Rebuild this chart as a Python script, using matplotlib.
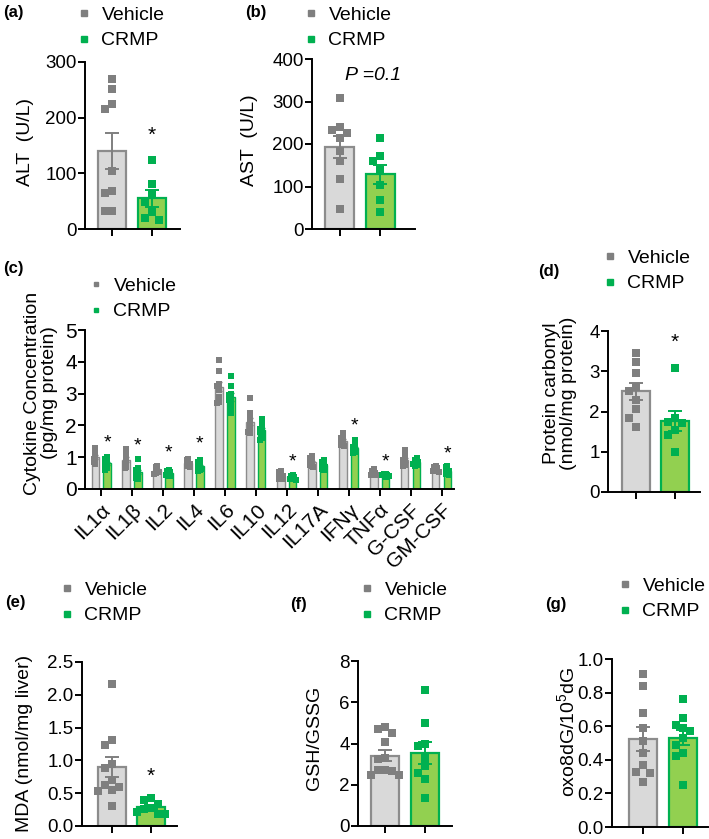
import matplotlib
matplotlib.use("Agg")
import matplotlib.pyplot as plt
from matplotlib.lines import Line2D
import numpy as np

plt.rcParams['font.family'] = ['Liberation Sans', 'DejaVu Sans']
plt.rcParams['mathtext.fontset'] = 'custom'
plt.rcParams['mathtext.rm'] = 'Liberation Sans'

GREY_PT = '#7f7f7f'
GREEN_PT = '#00b050'
GREY_BAR = '#d9d9d9'
GREY_EDGE = '#8c8c8c'
GREEN_BAR = '#92d050'
GREEN_EDGE = '#00b050'

# ---- data ----
alt_veh = [270, 252, 225, 215, 104, 69, 64, 33, 33]
alt_crmp = [124, 81, 64, 49, 30, 20, 16]

ast_veh = [308, 241, 234, 227, 214, 183, 161, 118, 47]
ast_crmp = [215, 171, 160, 140, 103, 69, 40]

carb_veh = [3.45, 3.22, 2.95, 2.6, 2.52, 2.28, 2.05, 1.85, 1.62]
carb_crmp = [3.08, 1.85, 1.75, 1.72, 1.55, 1.42, 1.0]

mda_veh = [2.17, 1.31, 1.23, 0.95, 0.89, 0.70, 0.62, 0.60, 0.55, 0.53, 0.31]
mda_crmp = [0.42, 0.40, 0.33, 0.28, 0.26, 0.22, 0.19, 0.18]

gsh_veh = [4.8, 4.7, 4.5, 4.06, 3.3, 3.25, 2.7, 2.7, 2.65, 2.45, 2.45]
gsh_crmp = [6.6, 4.98, 3.98, 3.9, 3.31, 2.89, 2.58, 2.27, 1.37]

oxo_veh = [0.91, 0.84, 0.68, 0.59, 0.51, 0.44, 0.37, 0.33, 0.32, 0.27]
oxo_crmp = [0.76, 0.65, 0.61, 0.59, 0.57, 0.53, 0.49, 0.44, 0.42, 0.25]

cyto_names = ['IL1α', 'IL1β', 'IL2', 'IL4', 'IL6', 'IL10', 'IL12', 'IL17A',
              'IFNγ', 'TNFα', 'G-CSF', 'GM-CSF']
cyto_veh = [
    [1.28, 1.2, 1.1, 1.0, 0.95, 0.9, 0.85, 0.8],
    [1.25, 1.15, 1.05, 0.95, 0.85, 0.8, 0.7, 0.65],
    [0.72, 0.68, 0.62, 0.6, 0.55, 0.52, 0.5, 0.48],
    [0.95, 0.9, 0.85, 0.82, 0.8, 0.75, 0.72, 0.7],
    [4.05, 3.7, 3.3, 3.25, 3.2, 3.1, 2.9, 2.75, 2.7],
    [2.85, 2.4, 2.3, 2.15, 2.05, 1.95, 1.85, 1.8, 1.75],
    [0.58, 0.52, 0.48, 0.42, 0.4, 0.36, 0.32, 0.3],
    [1.05, 0.98, 0.9, 0.85, 0.8, 0.75, 0.72, 0.7],
    [1.76, 1.68, 1.6, 1.52, 1.48, 1.42, 1.38, 1.34],
    [0.63, 0.58, 0.54, 0.5, 0.48, 0.46, 0.45, 0.44],
    [1.22, 1.05, 0.95, 0.9, 0.85, 0.8, 0.75, 0.72],
    [0.71, 0.68, 0.65, 0.62, 0.6, 0.58, 0.56, 0.55],
]
cyto_crmp = [
    [1.02, 0.95, 0.88, 0.82, 0.78, 0.72, 0.65, 0.6],
    [0.95, 0.65, 0.6, 0.55, 0.5, 0.42, 0.35, 0.3],
    [0.6, 0.56, 0.52, 0.5, 0.48, 0.45, 0.42, 0.4],
    [0.9, 0.85, 0.78, 0.72, 0.68, 0.64, 0.6, 0.58],
    [3.55, 3.25, 3.0, 2.95, 2.85, 2.8, 2.7, 2.55, 2.4],
    [2.2, 2.05, 1.95, 1.9, 1.85, 1.8, 1.7, 1.6, 1.55],
    [0.45, 0.42, 0.38, 0.36, 0.33, 0.31, 0.3, 0.28],
    [0.92, 0.85, 0.8, 0.75, 0.7, 0.68, 0.62, 0.6],
    [1.55, 1.4, 1.32, 1.28, 1.22, 1.18, 1.15, 1.12],
    [0.48, 0.46, 0.44, 0.43, 0.42, 0.41, 0.4, 0.39],
    [0.97, 0.92, 0.88, 0.85, 0.82, 0.8, 0.75, 0.72],
    [0.73, 0.68, 0.62, 0.6, 0.56, 0.52, 0.48, 0.45],
]
cyto_star = [1.46, 1.34, 1.13, 1.41, None, None, 0.84, None, 1.98, 0.84, None, 1.1]

W, H = 709, 839
fig = plt.figure(figsize=(W / 100, H / 100), dpi=100)


def px_axes(l, t, r, b):
    return fig.add_axes([l / W, 1 - b / H, (r - l) / W, (b - t) / H])


def spread(vals, w, gap):
    # simple beeswarm: put each point at the first free column
    placed, offs = [], []
    for v in vals:
        for o in (0, -w, w, -2 * w, 2 * w):
            if all(abs(v - pv) > gap or o != po for pv, po in placed):
                break
        placed.append((v, o))
        offs.append(o)
    return np.array(offs)


def style(ax, xlim, ymax, yticks):
    ax.set_xlim(*xlim)
    ax.set_ylim(0, ymax)
    ax.set_yticks(yticks)
    ax.spines[['top', 'right']].set_visible(False)
    for sp in ('left', 'bottom'):
        ax.spines[sp].set_linewidth(1.4)
    ax.tick_params(width=1.4, length=5, labelsize=13.5, pad=1)


def two_bar(box, veh, crmp, ymax, yticks, xlim, star=None):
    ax = px_axes(*box)
    groups = [(veh, GREY_BAR, GREY_EDGE, GREY_PT), (crmp, GREEN_BAR, GREEN_EDGE, GREEN_PT)]
    for i, (vals, fc, ec, pc) in enumerate(groups):
        vals = np.asarray(vals, float)
        m = vals.mean()
        s = vals.std(ddof=1) / np.sqrt(len(vals))
        ax.bar(i, m, width=0.7, color=fc, edgecolor=ec, lw=1.6, zorder=1)
        ax.scatter(i + spread(vals, 0.18, 0.05 * ymax), vals, marker='s', s=30,
                   color=pc, linewidths=0, zorder=2)
        ax.errorbar(i, m, yerr=s, color=pc, capsize=5, elinewidth=1.4,
                    capthick=1.4, zorder=3)
    style(ax, xlim, ymax, yticks)
    ax.set_xticks([0, 1])
    ax.set_xticklabels([])
    if star is not None:
        ax.text(1, star, '*', ha='center', va='center', fontsize=15)
    return ax


def legend(xm, y, ms=4.5):
    # xm: pixel x of the legend marker centre
    h = [Line2D([], [], ls='', marker='s', ms=ms, color=GREY_PT),
         Line2D([], [], ls='', marker='s', ms=ms, color=GREEN_PT)]
    fig.legend(h, ['Vehicle', 'CRMP'], loc='upper left',
               bbox_to_anchor=((xm - 4.9) / W, 1 - y / H), frameon=False, fontsize=14,
               handlelength=0.5, handletextpad=0.65, labelspacing=0.42,
               borderpad=0, borderaxespad=0)


def ylab(x, y, s, **kw):
    fig.text(x / W, 1 - y / H, s, rotation=90, ha='center', va='center',
             fontsize=14, **kw)


def plabel(x, y, s):
    fig.text(x / W, 1 - y / H, s, fontweight='bold', fontsize=12, va='center')


# (a) ALT
two_bar((85, 62, 180, 229), alt_veh, alt_crmp, 300, [0, 100, 200, 300],
        (-0.68, 1.7), star=169)
ylab(26, 142, 'ALT  (U/L)')
plabel(3, 13, '(a)')
legend(84, 6)

# (b) AST
ax_b = two_bar((312, 59, 415, 229), ast_veh, ast_crmp, 400, [0, 100, 200, 300, 400],
               (-0.68, 1.85))
ax_b.text(0.82, 360, 'P =0.1', style='italic', ha='center', va='center', fontsize=14)
ylab(250, 140, 'AST  (U/L)')
plabel(245, 13, '(b)')
legend(311, 6)

# (c) cytokines
ax_c = px_axes(85, 330, 454, 489)
xc = np.arange(len(cyto_names))
for k in range(len(cyto_names)):
    for vals, off, fc, ec, pc in [(cyto_veh[k], -0.19, GREY_BAR, GREY_EDGE, GREY_PT),
                                  (cyto_crmp[k], 0.19, GREEN_BAR, GREEN_EDGE, GREEN_PT)]:
        vals = np.asarray(vals, float)
        m = vals.mean()
        s = vals.std(ddof=1) / np.sqrt(len(vals))
        ax_c.bar(xc[k] + off, m, width=0.24, color=fc, edgecolor=ec, lw=1.0, zorder=1)
        ax_c.scatter(xc[k] + off + spread(vals, 0.05, 0.08), vals, marker='s', s=14,
                     color=pc, linewidths=0, zorder=2)
        ax_c.errorbar(xc[k] + off, m, yerr=s, color=pc, capsize=2.5, elinewidth=1.0,
                      capthick=1.0, zorder=3)
    if cyto_star[k] is not None:
        ax_c.text(xc[k] + 0.19, cyto_star[k], '*', ha='center', va='center', fontsize=14)
style(ax_c, (-0.52, 11.4), 5, [0, 1, 2, 3, 4, 5])
ax_c.tick_params(axis='y', labelsize=15)
ax_c.set_xticks(xc)
ax_c.set_xticklabels(cyto_names, rotation=45, ha='right', rotation_mode='anchor',
                     fontsize=15)
ax_c.tick_params(axis='x', pad=3)
fig.text(41 / W, 1 - 393 / H, 'Cytokine Concentration\n(pg/mg protein)', rotation=90,
         ha='center', va='center', fontsize=14, linespacing=1.0, multialignment='center')
plabel(3, 268, '(c)')
legend(96, 277, ms=3.5)

# (d) protein carbonyl
two_bar((608, 331, 700, 492), carb_veh, carb_crmp, 4, [0, 1, 2, 3, 4],
        (-0.72, 1.64), star=3.73)
fig.text(560 / W, 1 - 393 / H, 'Protein carbonyl\n(nmol/mg protein)', rotation=90,
         ha='center', va='center', fontsize=14, linespacing=1.0, multialignment='center')
plabel(538, 271, '(d)')
legend(610, 249)

# (e) MDA
two_bar((82, 662, 177, 826), mda_veh, mda_crmp, 2.5, [0, 0.5, 1.0, 1.5, 2.0, 2.5],
        (-0.77, 1.67), star=0.76)
ylab(25, 743, 'MDA (nmol/mg liver)')
plabel(5, 603, '(e)')
legend(67, 581)

# (f) GSH/GSSG
two_bar((358, 661, 452, 826), gsh_veh, gsh_crmp, 8, [0, 2, 4, 6, 8], (-0.675, 1.675))
ylab(314, 738, 'GSH/GSSG')
plabel(290, 605, '(f)')
legend(367, 581)

# (g) oxo8dG
two_bar((612, 659, 708, 827), oxo_veh, oxo_crmp, 1.0, [0, 0.2, 0.4, 0.6, 0.8, 1.0],
        (-0.775, 1.625))
ylab(568, 732, r'oxo8dG/10$^5$dG')
plabel(545, 605, '(g)')
legend(625, 577)

fig.savefig('out.png', dpi=100)
